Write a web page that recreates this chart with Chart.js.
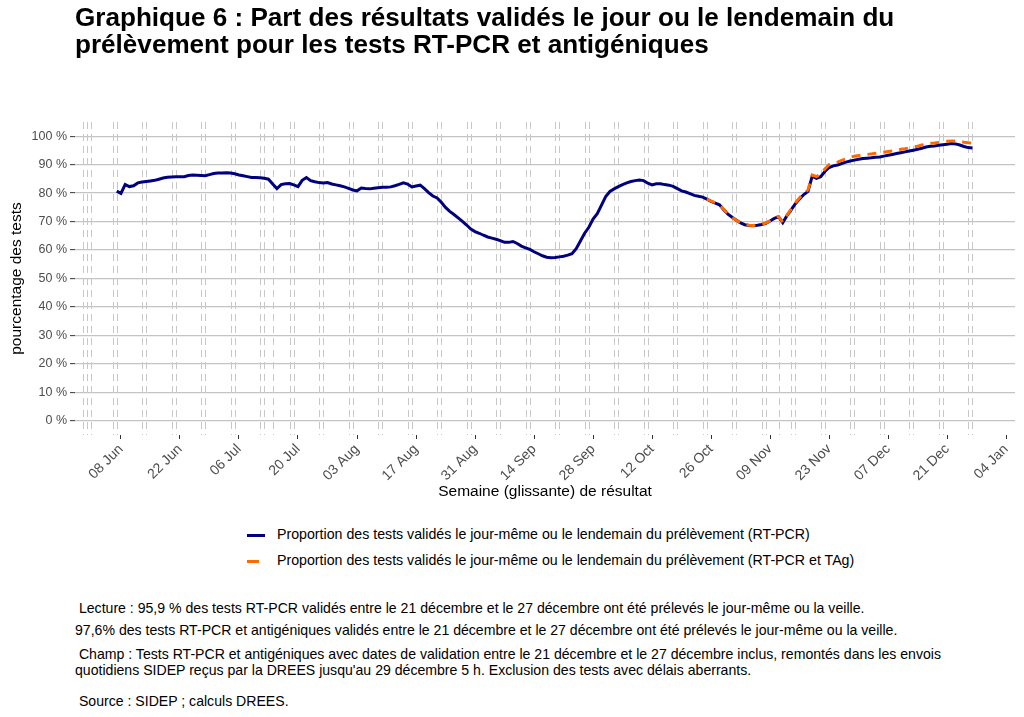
<!DOCTYPE html>
<html>
<head>
<meta charset="utf-8">
<script src="https://cdn.jsdelivr.net/npm/chart.js@4.4.0/dist/chart.umd.min.js"></script>
<style>
  body { margin: 0; background: #fff; font-family: 'Liberation Sans', Arial, sans-serif; }
  #wrap { position: relative; width: 1024px; height: 717px; overflow: hidden; }
  #chart { position: absolute; left: 0; top: 0; }
  .title { position: absolute; left: 75px; top: 4px; font-size: 26.1px; font-weight: bold; line-height: 27px; color: #000; }
  .leg { position: absolute; left: 247px; font-size: 14.2px; color: #000; white-space: nowrap; }
  .leg span.key { display: inline-block; width: 18px; height: 0; border-top: 3px solid #00007f; vertical-align: middle; margin-right: 12px; }
  .leg span.key.orange { width: 12px; border-top-color: #ff6a00; margin-right: 18px; }
  .note { position: absolute; left: 75px; font-size: 14.1px; line-height: 16px; color: #000; white-space: nowrap; }
</style>
</head>
<body>
<div id="wrap">
  <canvas id="chart" width="1024" height="510"></canvas>
  <div class="title">Graphique 6 : Part des résultats validés le jour ou le lendemain du<br>prélèvement pour les tests RT-PCR et antigéniques</div>
  <div class="leg" style="top:526px"><span class="key"></span>Proportion des tests validés le jour-même ou le lendemain du prélèvement (RT-PCR)</div>
  <div class="leg" style="top:552px"><span class="key orange"></span>Proportion des tests validés le jour-même ou le lendemain du prélèvement (RT-PCR et TAg)</div>
  <div class="note" style="top:600px">&nbsp;Lecture : 95,9 % des tests RT-PCR validés entre le 21 décembre et le 27 décembre ont été prélevés le jour-même ou la veille.</div>
  <div class="note" style="top:622px">97,6% des tests RT-PCR et antigéniques validés entre le 21 décembre et le 27 décembre ont été prélevés le jour-même ou la veille.</div>
  <div class="note" style="top:646px">&nbsp;Champ : Tests RT-PCR et antigéniques avec dates de validation entre le 21 décembre et le 27 décembre inclus, remontés dans les envois<br>quotidiens SIDEP reçus par la DREES jusqu'au 29 décembre 5 h. Exclusion des tests avec délais aberrants.</div>
  <div class="note" style="top:693px">&nbsp;Source : SIDEP ; calculs DREES.</div>
</div>
<script>
// series: one value per day (rolling week ending that day)
const rtpcrStart = '2020-06-07';
const rtpcr = [
  80.7, 79.9, 83.0, 82.3, 82.6, 83.6, 83.9, 84.1, 84.3, 84.5,
  84.9, 85.3, 85.6, 85.7, 85.8, 85.8, 85.8, 86.2, 86.4, 86.3,
  86.2, 86.1, 86.5, 86.9, 87.1, 87.1, 87.2, 87.1, 86.8, 86.4,
  86.1, 85.8, 85.5, 85.5, 85.4, 85.2, 84.9, 83.2, 81.6, 83.0,
  83.3, 83.4, 82.9, 82.3, 84.5, 85.5, 84.4, 84.0, 83.7, 83.6,
  83.7, 83.2, 82.9, 82.6, 82.2, 81.7, 81.1, 80.8, 81.8, 81.6,
  81.5, 81.7, 81.9, 82.1, 82.1, 82.2, 82.6, 83.1, 83.6, 83.2,
  82.2, 82.5, 82.8, 81.6, 80.2, 79.0, 78.3, 76.8, 75.0, 73.6,
  72.5, 71.3, 70.1, 68.8, 67.4, 66.5, 65.9, 65.2, 64.6, 64.2,
  63.8, 63.3, 62.7, 62.7, 63.0, 62.3, 61.4, 60.8, 60.2, 59.4,
  58.7, 58.0, 57.5, 57.3, 57.4, 57.6, 57.8, 58.2, 58.7, 60.5,
  63.2, 65.9, 68.0, 70.9, 72.8, 75.8, 78.8, 80.6, 81.5, 82.3,
  83.0, 83.6, 84.1, 84.4, 84.6, 84.4, 83.5, 82.9, 83.3, 83.3,
  83.0, 82.8, 82.4, 81.6, 80.8, 80.4, 79.8, 79.2, 78.9, 78.6,
  77.9, 77.1, 76.5, 75.9, 74.2, 72.6, 71.5, 70.5, 69.5, 68.9,
  68.6, 68.5, 68.7, 69.0, 69.4, 70.2, 71.1, 71.7, 69.6, 72.1,
  74.1, 76.3, 78.0, 79.5, 80.6, 86.0, 85.2, 85.8, 87.6, 89.0,
  89.6, 89.9, 90.4, 90.9, 91.3, 91.6, 91.9, 92.2, 92.3, 92.4,
  92.6, 92.7, 93.0, 93.3, 93.6, 93.9, 94.2, 94.5, 94.8, 95.1,
  95.4, 95.8, 96.2, 96.5, 96.6, 96.8, 97.0, 97.2, 97.4, 97.3,
  96.9, 96.4, 96.0, 95.9
];
const rtpcrTagStart = '2020-10-25';
const rtpcrTag = [
  77.9, 77.2, 76.6, 75.9, 74.3, 72.7, 71.5, 70.5, 69.6, 69.0,
  68.7, 68.6, 68.8, 69.1, 69.5, 70.3, 71.2, 71.8, 69.8, 72.3,
  74.4, 76.6, 78.4, 79.9, 81.1, 86.4, 85.8, 86.6, 88.5, 90.0,
  90.5, 90.9, 91.5, 92.1, 92.6, 93.0, 93.2, 93.5, 93.6, 93.8,
  94.0, 94.2, 94.4, 94.6, 94.8, 95.1, 95.4, 95.6, 95.9, 96.2,
  96.5, 96.9, 97.3, 97.5, 97.6, 97.8, 98.0, 98.2, 98.3, 98.3,
  98.2, 97.9, 97.7, 97.6
];

const tickDates = ['2020-06-08', '2020-06-22', '2020-07-06', '2020-07-20', '2020-08-03', '2020-08-17',
  '2020-08-31', '2020-09-14', '2020-09-28', '2020-10-12', '2020-10-26', '2020-11-09',
  '2020-11-23', '2020-12-07', '2020-12-21', '2021-01-04'];
const tickLabels = ['08 Jun', '22 Jun', '06 Jul', '20 Jul', '03 Aug', '17 Aug', '31 Aug', '14 Sep',
  '28 Sep', '12 Oct', '26 Oct', '09 Nov', '23 Nov', '07 Dec', '21 Dec', '04 Jan'];
const yTicks = [0, 10, 20, 30, 40, 50, 60, 70, 80, 90, 100];

// week-ends and public holidays (dashed vertical lines)
const offDays = [
  '2020-05-30', '2020-05-31', '2020-06-01', '2020-06-06', '2020-06-07', '2020-06-13', '2020-06-14',
  '2020-06-20', '2020-06-21', '2020-06-27', '2020-06-28', '2020-07-04', '2020-07-05',
  '2020-07-11', '2020-07-12', '2020-07-14', '2020-07-18', '2020-07-19', '2020-07-25', '2020-07-26',
  '2020-08-01', '2020-08-02', '2020-08-08', '2020-08-09', '2020-08-15', '2020-08-16',
  '2020-08-22', '2020-08-23', '2020-08-29', '2020-08-30', '2020-09-05', '2020-09-06',
  '2020-09-12', '2020-09-13', '2020-09-19', '2020-09-20', '2020-09-26', '2020-09-27',
  '2020-10-03', '2020-10-04', '2020-10-10', '2020-10-11', '2020-10-17', '2020-10-18',
  '2020-10-24', '2020-10-25', '2020-10-31', '2020-11-01', '2020-11-07', '2020-11-08',
  '2020-11-11', '2020-11-14', '2020-11-15', '2020-11-21', '2020-11-22', '2020-11-28', '2020-11-29',
  '2020-12-05', '2020-12-06', '2020-12-12', '2020-12-13', '2020-12-19', '2020-12-20',
  '2020-12-26', '2020-12-27'
];

const origin = Date.UTC(2020, 5, 8);
function dayNum(s) {
  const p = s.split('-');
  return (Date.UTC(+p[0], +p[1] - 1, +p[2]) - origin) / 86400000;
}
function toPoints(start, vals) {
  const d0 = dayNum(start);
  return vals.map((v, i) => ({ x: d0 + i, y: v }));
}
const tickPos = tickDates.map(dayNum);

const offDayLines = {
  id: 'offDayLines',
  beforeDatasetsDraw(chart) {
    const { ctx, chartArea, scales } = chart;
    ctx.save();
    ctx.strokeStyle = '#c8c8c8';
    ctx.lineWidth = 1;
    ctx.setLineDash([7, 5]);
    offDays.forEach(d => {
      const px = Math.round(scales.x.getPixelForValue(dayNum(d))) + 0.5;
      ctx.beginPath();
      ctx.moveTo(px, chartArea.top);
      ctx.lineTo(px, chartArea.bottom);
      ctx.stroke();
    });
    ctx.restore();
  }
};

new Chart(document.getElementById('chart'), {
  type: 'line',
  data: {
    datasets: [{
      label: 'Proportion des tests validés le jour-même ou le lendemain du prélèvement (RT-PCR)',
      data: toPoints(rtpcrStart, rtpcr),
      borderColor: '#00007f',
      borderWidth: 3,
      pointRadius: 0,
      tension: 0,
      order: 2
    }, {
      label: 'Proportion des tests validés le jour-même ou le lendemain du prélèvement (RT-PCR et TAg)',
      data: toPoints(rtpcrTagStart, rtpcrTag),
      borderColor: '#ff6a00',
      borderWidth: 3,
      borderDash: [9, 7],
      pointRadius: 0,
      tension: 0,
      order: 1
    }]
  },
  options: {
    responsive: false,
    animation: false,
    layout: { padding: { top: 122, right: 9, left: 0, bottom: 0 } },
    plugins: {
      legend: { display: false },
      tooltip: { enabled: false }
    },
    scales: {
      x: {
        type: 'linear',
        min: -10.9,
        max: 212.1,
        afterFit(scale) { scale.height = 75; },
        afterBuildTicks(scale) { scale.ticks = tickPos.map(v => ({ value: v })); },
        grid: { drawOnChartArea: false, tickLength: 4, tickColor: '#333', tickWidth: 1 },
        border: { display: false },
        ticks: {
          autoSkip: false,
          maxRotation: 45,
          minRotation: 45,
          padding: 2,
          color: '#4d4d4d',
          font: { family: 'Liberation Sans', size: 14 },
          callback: (v) => tickLabels[tickPos.indexOf(v)]
        },
        title: {
          display: true,
          text: 'Semaine (glissante) de résultat',
          color: '#000',
          font: { family: 'Liberation Sans', size: 15.5 },
          padding: { top: 0, bottom: 9 }
        }
      },
      y: {
        min: -5,
        max: 105,
        afterFit(scale) { scale.width = 75; },
        afterBuildTicks(scale) { scale.ticks = yTicks.map(v => ({ value: v })); },
        grid: { color: '#c4c4c4', lineWidth: 1.3, tickLength: 5, tickColor: '#333', tickWidth: 1 },
        border: { display: false },
        ticks: {
          padding: 3,
          color: '#4d4d4d',
          font: { family: 'Liberation Sans', size: 12.5 },
          callback: (v) => v + ' %'
        },
        title: {
          display: true,
          text: 'pourcentage des tests',
          color: '#000',
          font: { family: 'Liberation Sans', size: 15.5 },
          padding: { top: 7, bottom: 0 }
        }
      }
    }
  },
  plugins: [offDayLines]
});
</script>
</body>
</html>
